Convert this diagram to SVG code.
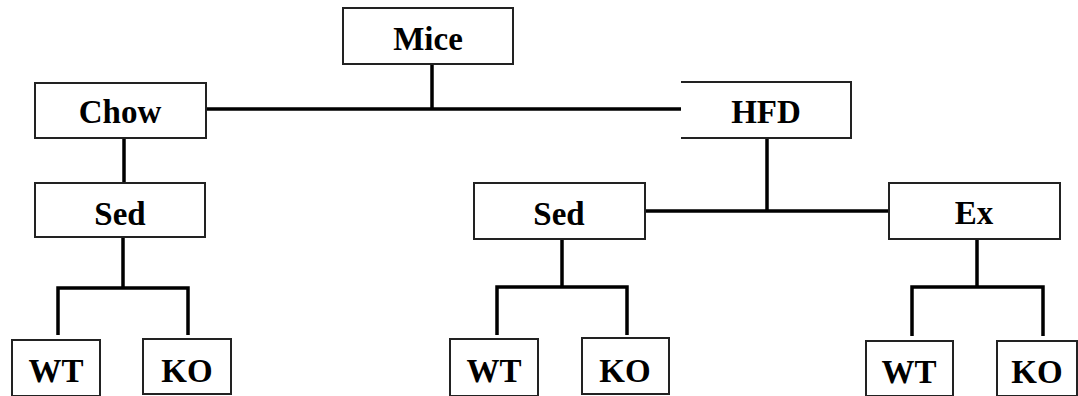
<svg xmlns="http://www.w3.org/2000/svg" width="1078" height="396" viewBox="0 0 1078 396">
<style>
.box{fill:#fff;stroke:#222;stroke-width:2}
.lbl{font-family:"Liberation Serif","Times New Roman",serif;font-weight:bold;font-size:33px;fill:#000;text-anchor:middle}
.conn{fill:none;stroke:#000;stroke-width:3.5;stroke-linecap:butt;stroke-linejoin:miter}
</style>
<rect width="1078" height="396" fill="#fff"/>
<g id="connectors">
<path class="conn" d="M432 64 V109 M206 109 H681"/>
<path class="conn" d="M124 138 V183"/>
<path class="conn" d="M767 138 V211 M645 211 H889"/>
<path class="conn" d="M123 237 V288 M58 335 V288 H188 V335"/>
<path class="conn" d="M562 239 V287 M497 335 V287 H627 V335"/>
<path class="conn" d="M977 239 V287 M912 336 V287 H1043 V336"/>
</g>
<g id="mice"><rect class="box" x="343" y="8" width="170" height="56"/><text class="lbl" x="428" y="50">Mice</text></g>
<g id="chow"><rect class="box" x="35" y="83" width="171" height="55"/><text class="lbl" x="120" y="123">Chow</text></g>
<g id="hfd"><path class="box" d="M681 82 H851 V138 H681"/><text class="lbl" x="766" y="123">HFD</text></g>
<g id="sed1"><rect class="box" x="35" y="183" width="170" height="54"/><text class="lbl" x="120" y="225">Sed</text></g>
<g id="sed2"><rect class="box" x="474" y="183" width="171" height="56"/><text class="lbl" x="559" y="225">Sed</text></g>
<g id="ex"><rect class="box" x="889" y="183" width="171" height="56"/><text class="lbl" x="974" y="224">Ex</text></g>
<g id="wt1"><rect class="box" x="12" y="340" width="88" height="56"/><text class="lbl" x="56" y="382">WT</text></g>
<g id="ko1"><rect class="box" x="143" y="339" width="88" height="55"/><text class="lbl" x="187" y="382">KO</text></g>
<g id="wt2"><rect class="box" x="450" y="339" width="88" height="57"/><text class="lbl" x="494" y="382">WT</text></g>
<g id="ko2"><rect class="box" x="582" y="338" width="87" height="56"/><text class="lbl" x="625" y="382">KO</text></g>
<g id="wt3"><rect class="box" x="866" y="341" width="87" height="55"/><text class="lbl" x="909" y="383">WT</text></g>
<g id="ko3"><rect class="box" x="997" y="341" width="80" height="55"/><text class="lbl" x="1037" y="383">KO</text></g>
</svg>
